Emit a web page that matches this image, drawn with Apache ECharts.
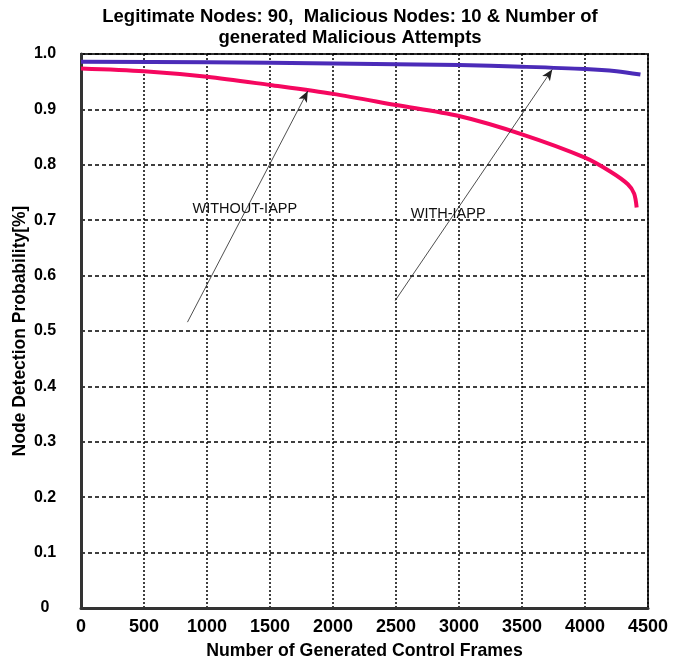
<!DOCTYPE html>
<html>
<head>
<meta charset="utf-8">
<script src="https://cdn.jsdelivr.net/npm/echarts@6/dist/echarts.min.js"></script>
<style>
  html, body { margin: 0; padding: 0; background: #fff; }
  #chart { width: 683px; height: 661px; }
</style>
</head>
<body>
<div id="chart"></div>
<script>
// values
const withoutFrames = [0, 500, 1000, 1500, 2000, 2500, 3000, 3500, 4000, 4200, 4340, 4390, 4410];
const withoutIapp = [0.974, 0.969, 0.959, 0.944, 0.928, 0.908, 0.888, 0.855, 0.813, 0.788, 0.765, 0.748, 0.723];
const withFrames = [0, 1000, 2000, 3000, 3500, 4000, 4250, 4440];
const withIapp = [0.986, 0.985, 0.983, 0.980, 0.977, 0.973, 0.969, 0.963];

// annotation arrows: [fromX, fromY, toX, toY]
const withoutArrow = [845, 0.516, 1800, 0.933];
const withArrow = [2494, 0.555, 3740, 0.972];
const withoutLabel = [1300, 0.72];
const withLabel = [2914, 0.712];

const FONT = "'Liberation Sans', Arial, sans-serif";

const pair = (xs, ys) => xs.map((x, i) => [x, ys[i]]);

const arrowLine = (a) => ({
  silent: true,
  symbol: ["none", "arrow"],
  symbolSize: [7, 11],
  lineStyle: { color: "#222", width: 0.8, type: "solid" },
  label: { show: false },
  data: [[{ coord: [a[0], a[1]] }, { coord: [a[2], a[3]] }]],
});

const textPoint = (p, text) => ({
  silent: true,
  symbol: "circle",
  symbolSize: 0,
  label: {
    show: true,
    position: "inside",
    formatter: text,
    color: "#111",
    fontFamily: FONT,
    fontSize: 14.5,
  },
  data: [{ coord: p }],
});

const option = {
  animation: false,
  title: {
    text: "Legitimate Nodes: 90,  Malicious Nodes: 10 & Number of\ngenerated Malicious Attempts",
    left: 350,
    top: 0,
    textAlign: "center",
    padding: [6, 0, 0, 0],
    textStyle: {
      fontFamily: FONT,
      fontWeight: "bold",
      fontSize: 18.5,
      lineHeight: 21,
      color: "#000",
    },
  },
  grid: {
    left: 81,
    right: 35,
    top: 54,
    bottom: 53,
    outerBoundsMode: "none",
    show: true,
    borderColor: "#333",
    borderWidth: 2,
  },
  xAxis: {
    type: "value",
    min: 0,
    max: 4500,
    interval: 500,
    name: "Number of Generated Control Frames",
    nameLocation: "middle",
    nameGap: 34,
    nameTextStyle: { fontFamily: FONT, fontWeight: "bold", fontSize: 17.7, color: "#000" },
    axisLine: { show: true, lineStyle: { color: "#333", width: 3 } },
    axisTick: { show: false },
    axisLabel: {
      fontFamily: FONT,
      fontWeight: "bold",
      fontSize: 18,
      color: "#000",
      margin: 10,
      formatter: (v) => String(v),
    },
    splitLine: { show: true, lineStyle: { color: "#000", width: 1.5, type: [2, 2] } },
  },
  yAxis: {
    type: "value",
    min: 0,
    max: 1,
    interval: 0.1,
    name: "Node Detection Probability[%]",
    nameLocation: "middle",
    nameGap: 52,
    nameMoveOverlap: false,
    nameTextStyle: { fontFamily: FONT, fontWeight: "bold", fontSize: 17.5, color: "#000" },
    axisLine: { show: true, lineStyle: { color: "#333", width: 3 } },
    axisTick: { show: false },
    axisLabel: {
      fontFamily: FONT,
      fontWeight: "bold",
      fontSize: 16,
      color: "#000",
      align: "center",
      margin: 36,
      formatter: (v) => (v === 0 ? "0" : v.toFixed(1)),
    },
    splitLine: { show: true, lineStyle: { color: "#000", width: 1.5, type: [4, 3] } },
  },
  series: [
    {
      name: "WITHOUT-IAPP",
      type: "line",
      data: pair(withoutFrames, withoutIapp),
      smooth: 0.3,
      symbol: "none",
      lineStyle: { color: "#f5075f", width: 4 },
      markLine: arrowLine(withoutArrow),
      markPoint: textPoint(withoutLabel, "WITHOUT-IAPP"),
      z: 3,
    },
    {
      name: "WITH-IAPP",
      type: "line",
      data: pair(withFrames, withIapp),
      smooth: 0.3,
      symbol: "none",
      lineStyle: { color: "#4b2bb8", width: 4 },
      markLine: arrowLine(withArrow),
      markPoint: textPoint(withLabel, "WITH-IAPP"),
      z: 3,
    },
  ],
};

const chart = echarts.init(document.getElementById("chart"));
chart.setOption(option);
</script>
</body>
</html>
